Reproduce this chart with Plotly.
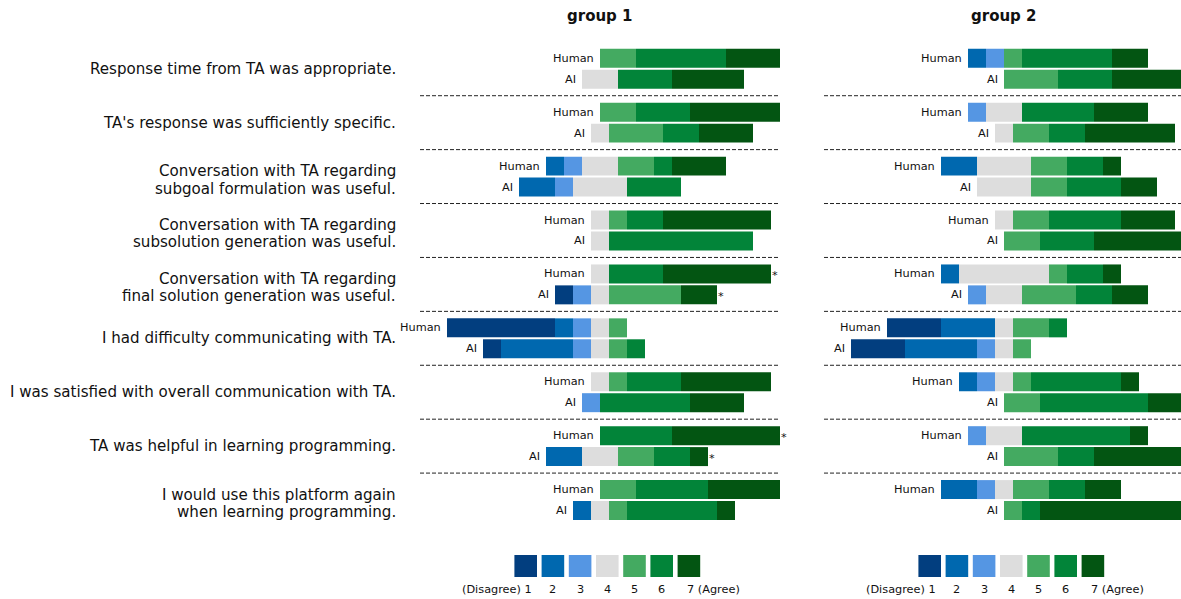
import plotly.graph_objects as go

W, H = 1181, 599
FONT = "DejaVu Sans"

questions = [
    "Response time from TA was appropriate.",
    "TA's response was sufficiently specific.",
    "Conversation with TA regarding\nsubgoal formulation was useful.",
    "Conversation with TA regarding\nsubsolution generation was useful.",
    "Conversation with TA regarding\nfinal solution generation was useful.",
    "I had difficulty communicating with TA.",
    "I was satisfied with overall communication with TA.",
    "TA was helpful in learning programming.",
    "I would use this platform again\nwhen learning programming.",
]

ratings = ["1", "2", "3", "4", "5", "6", "7"]
colors = ["#023e7f", "#0068af", "#5596e3", "#dddddd", "#44aa61", "#028439", "#035512"]

# counts of responses per rating 1..7, one row per question
group1_human = [
    [0, 0, 0, 0, 2, 5, 3],
    [0, 0, 0, 0, 2, 3, 5],
    [0, 1, 1, 2, 2, 1, 3],
    [0, 0, 0, 1, 1, 2, 6],
    [0, 0, 0, 1, 0, 3, 6],
    [6, 1, 1, 1, 1, 0, 0],
    [0, 0, 0, 1, 1, 3, 5],
    [0, 0, 0, 0, 0, 4, 6],
    [0, 0, 0, 0, 2, 4, 4],
]
group1_ai = [
    [0, 0, 0, 2, 0, 3, 4],
    [0, 0, 0, 1, 3, 2, 3],
    [0, 2, 1, 3, 0, 3, 0],
    [0, 0, 0, 1, 0, 8, 0],
    [1, 0, 1, 1, 4, 0, 2],
    [1, 4, 1, 1, 1, 1, 0],
    [0, 0, 1, 0, 0, 5, 3],
    [0, 2, 0, 2, 2, 2, 1],
    [0, 1, 0, 1, 1, 5, 1],
]
group2_human = [
    [0, 1, 1, 0, 1, 5, 2],
    [0, 0, 1, 2, 0, 4, 3],
    [0, 2, 0, 3, 2, 2, 1],
    [0, 0, 0, 1, 2, 4, 3],
    [0, 1, 0, 5, 1, 2, 1],
    [3, 3, 0, 1, 2, 1, 0],
    [0, 1, 1, 1, 1, 5, 1],
    [0, 0, 1, 2, 0, 6, 1],
    [0, 2, 1, 1, 2, 2, 2],
]
group2_ai = [
    [0, 0, 0, 0, 3, 3, 4],
    [0, 0, 0, 1, 2, 2, 5],
    [0, 0, 0, 3, 2, 3, 2],
    [0, 0, 0, 0, 2, 3, 5],
    [0, 0, 1, 2, 3, 2, 2],
    [3, 4, 1, 1, 1, 0, 0],
    [0, 0, 0, 0, 2, 6, 2],
    [0, 0, 0, 0, 3, 2, 5],
    [0, 0, 0, 0, 1, 1, 8],
]

# questions (0-based) with a significant Human/AI difference
group1_significant = [4, 7]
group2_significant = []

panels = [
    dict(title="group 1", human=group1_human, ai=group1_ai, sig=group1_significant,
         xa="x", ya="y", center_px=600, left_px=420, right_px=780),
    dict(title="group 2", human=group2_human, ai=group2_ai, sig=group2_significant,
         xa="x2", ya="y2", center_px=1004, left_px=824, right_px=1181),
]

UNIT_PX = 18.0
ROW_OFF = 0.194
BAR_W = 0.352
Y_TOP_PX, Y_BOT_PX = 41.8, 527.0


def px_x(p):
    return p / W


def px_y(p):
    return 1 - p / H


fig = go.Figure()
annotations = []
shapes = []

for p in panels:
    rows = []  # (y, counts, label, question index)
    for i in range(len(questions)):
        rows.append((i - ROW_OFF, p["human"][i], "Human", i))
        rows.append((i + ROW_OFF, p["ai"][i], "AI", i))

    for k in range(7):
        ys, xs, bases = [], [], []
        for y, counts, _, _ in rows:
            left = -(counts[0] + counts[1] + counts[2] + counts[3] / 2.0)
            start = left + sum(counts[:k])
            if counts[k] > 0:
                ys.append(y)
                xs.append(counts[k])
                bases.append(start)
        fig.add_trace(go.Bar(
            orientation="h", y=ys, x=xs, base=bases, width=BAR_W,
            marker=dict(color=colors[k], line=dict(width=0)),
            xaxis=p["xa"], yaxis=p["ya"], showlegend=False, hoverinfo="skip",
        ))

    for y, counts, label, qi in rows:
        left = -(counts[0] + counts[1] + counts[2] + counts[3] / 2.0)
        right = left + sum(counts)
        annotations.append(dict(
            x=left, y=y, xref=p["xa"], yref=p["ya"], text=label,
            xanchor="right", yanchor="middle", xshift=-4, showarrow=False,
            font=dict(family=FONT, size=11.3, color="#111111"),
        ))
        if qi in p["sig"]:
            annotations.append(dict(
                x=right, y=y, xref=p["xa"], yref=p["ya"], text="*",
                xanchor="left", yanchor="middle", xshift=-1, yshift=-2, showarrow=False,
                font=dict(family=FONT, size=11.3, color="#111111"),
            ))

    xmax = (p["right_px"] - p["center_px"]) / UNIT_PX
    for i in range(len(questions) - 1):
        shapes.append(dict(
            type="line", xref=p["xa"], yref=p["ya"], x0=-10, x1=min(10, xmax),
            y0=i + 0.5, y1=i + 0.5, line=dict(color="#222222", width=1, dash="4px,2px"),
        ))

    annotations.append(dict(
        x=px_x(p["center_px"]), y=px_y(16), xref="paper", yref="paper",
        text="<b>" + p["title"] + "</b>", xanchor="center", yanchor="middle",
        showarrow=False, font=dict(family=FONT, size=15, color="#111111"),
    ))

    # rating scale key under each panel
    for k in range(7):
        cx = p["center_px"] + 7.3 + (k - 3) * 27.2
        shapes.append(dict(
            type="rect", xref="paper", yref="paper",
            x0=px_x(cx - 11.3), x1=px_x(cx + 11.3), y0=px_y(577), y1=px_y(555),
            fillcolor=colors[k], line=dict(width=0),
        ))
        if k == 0:
            annotations.append(dict(
                x=px_x(cx + 8.5), y=px_y(589), xref="paper", yref="paper",
                text="(Disagree) " + ratings[k], xanchor="right", yanchor="middle",
                showarrow=False, font=dict(family=FONT, size=11.3, color="#111111"),
            ))
        elif k == 6:
            annotations.append(dict(
                x=px_x(cx - 4), y=px_y(589), xref="paper", yref="paper",
                text=ratings[k] + " (Agree)", xanchor="left", yanchor="middle",
                showarrow=False, font=dict(family=FONT, size=11.3, color="#111111"),
            ))
        else:
            annotations.append(dict(
                x=px_x(cx), y=px_y(589), xref="paper", yref="paper",
                text=ratings[k], xanchor="center", yanchor="middle",
                showarrow=False, font=dict(family=FONT, size=11.3, color="#111111"),
            ))

# question labels; two-line labels are set line by line for tighter leading
for i, q in enumerate(questions):
    lines = q.split("\n")
    shifts = [0] if len(lines) == 1 else [5.5, -12]
    for line, shift in zip(lines, shifts):
        annotations.append(dict(
            x=px_x(398), y=i, xref="paper", yref="y", text=line, align="right",
            xanchor="right", yanchor="middle", yshift=shift, showarrow=False,
            font=dict(family=FONT, size=15.1, color="#111111"),
        ))

ydom = [px_y(Y_BOT_PX), px_y(Y_TOP_PX)]
axis_off = dict(showgrid=False, zeroline=False, showticklabels=False, showline=False, ticks="")

fig.update_layout(
    width=W, height=H,
    margin=dict(l=0, r=0, t=0, b=0),
    paper_bgcolor="white", plot_bgcolor="white",
    barmode="overlay",
    xaxis=dict(domain=[px_x(420), px_x(780)], range=[-10, 10], **axis_off),
    xaxis2=dict(domain=[px_x(824), 1.0], range=[-10, (1181 - 1004) / UNIT_PX], **axis_off),
    yaxis=dict(domain=ydom, range=[8.5, -0.5], anchor="x", **axis_off),
    yaxis2=dict(domain=ydom, range=[8.5, -0.5], anchor="x2", **axis_off),
    annotations=annotations,
    shapes=shapes,
    font=dict(family=FONT),
)

fig.write_html("out.html")
